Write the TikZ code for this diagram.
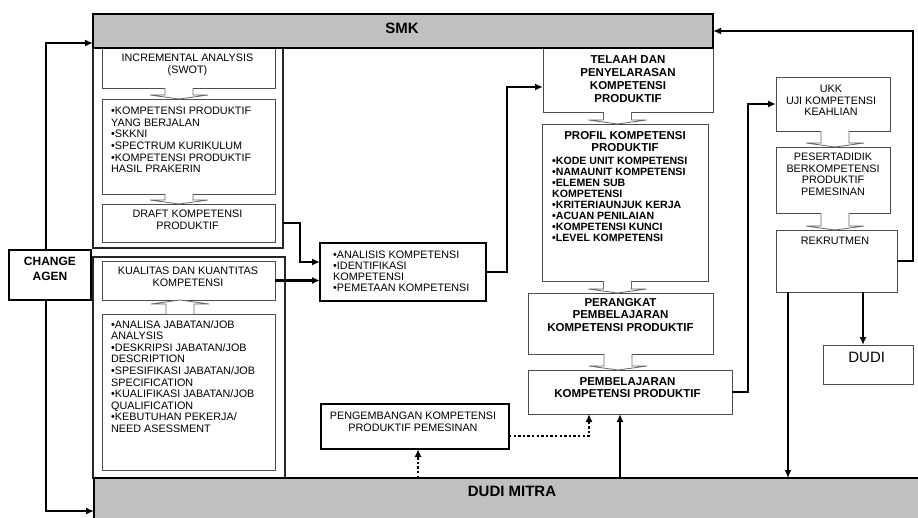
\documentclass[tikz,border=0pt]{standalone}
\usepackage{fontspec}
\setmainfont{Liberation Sans}
\usetikzlibrary{arrows.meta,calc}
\definecolor{bargray}{HTML}{C0C0C0}
\begin{document}
\begin{tikzpicture}[x=1pt,y=-1pt,
  bx/.style={draw=black!70,line width=0.8pt,fill=white,inner sep=0pt,outer sep=0pt,anchor=north west},
  tbx/.style={draw=black,line width=2pt,fill=white,inner sep=0pt,outer sep=0pt,anchor=north west},
  frm/.style={draw=black!85,line width=1.1pt,inner sep=0pt,outer sep=0pt,anchor=north west},
  bar/.style={draw=black,line width=2.4pt,fill=bargray,inner sep=0pt,outer sep=0pt,anchor=north west},
  reg/.style={font=\fontsize{10.8}{11.6}\selectfont,inner sep=0pt},
  regb/.style={font=\bfseries\fontsize{10.6}{11}\selectfont,inner sep=0pt},
  bld/.style={font=\bfseries\fontsize{11.5}{12.8}\selectfont,inner sep=0pt},
  conn/.style={draw=black,line width=2.4pt,-{Latex[length=8pt,width=7pt]}},
  dconn/.style={draw=black,line width=2.4pt,dash pattern=on 2.4pt off 2.2pt,-{Latex[length=8pt,width=7pt]}},
  blk/.style={draw=black!60,line width=0.8pt,fill=white},
  pics/bdown/.style={code={\draw[blk] (-14,0) -- (-14,#1-4) -- (-29,#1-4) -- (0,#1) -- (29,#1-4) -- (14,#1-4) -- (14,0);}},
  pics/bup/.style={code={\draw[blk] (-14,0) -- (-14,-#1+4) -- (-29,-#1+4) -- (0,-#1) -- (29,-#1+4) -- (14,-#1+4) -- (14,0);}},
]
\useasboundingbox (0,0) rectangle (918,517);
\clip (0,0) rectangle (918,517);
\fill[white] (0,0) rectangle (918,517);

% frames
\node[frm,minimum width=190pt,minimum height=200pt] (upf) at (93,48) {};
\node[frm,minimum width=192pt,minimum height=221pt] (lof) at (93,257) {};

% boxes
\node[bx,minimum width=173pt,minimum height=40pt] (incr) at (102,48) {};
\node[bx,minimum width=173pt,minimum height=95pt] (kpb) at (102,99) {};
\node[bx,minimum width=173pt,minimum height=38pt] (draft) at (102,204) {};
\node[bx,minimum width=173pt,minimum height=39pt] (kual) at (102,261) {};
\node[bx,minimum width=173pt,minimum height=156pt] (jab) at (102,314) {};
\node[tbx,line width=2.6pt,minimum width=82pt,minimum height=50pt] (ca) at (9,250) {};
\node[tbx,minimum width=166pt,minimum height=58pt] (ana) at (320,243) {};
\node[bx,minimum width=170pt,minimum height=64pt] (tel) at (543,48) {};
\node[bx,minimum width=166pt,minimum height=157pt] (prof) at (542,124) {};
\node[bx,minimum width=185pt,minimum height=61pt] (per) at (528,293) {};
\node[bx,minimum width=204pt,minimum height=44pt] (pemb) at (528,370) {};
\node[tbx,minimum width=188pt,minimum height=45pt] (peng) at (321,404) {};
\node[bx,minimum width=114pt,minimum height=54pt] (ukk) at (776,77) {};
\node[bx,minimum width=114pt,minimum height=66pt] (pes) at (776,147) {};
\node[bx,minimum width=121pt,minimum height=62pt] (rek) at (776,230) {};
\node[bx,minimum width=90pt,minimum height=39pt] (dudi) at (823,345) {};
\node[bar,minimum width=620pt,minimum height=34pt] (smk) at (93,14) {};
\node[bar,minimum width=831pt,minimum height=47pt] (dm) at (94,478) {};

% texts
\node[reg,anchor=north,align=center] (incrT) at (187.5,54) {INCREMENTAL ANALYSIS\\(SWOT)};
\node[reg,anchor=north west,align=left] (kpbT) at (111,107) {•KOMPETENSI PRODUKTIF\\YANG BERJALAN\\•SKKNI\\•SPECTRUM KURIKULUM\\•KOMPETENSI PRODUKTIF\\HASIL PRAKERIN};
\node[reg,anchor=north,align=center] (draftT) at (187.5,210) {DRAFT KOMPETENSI\\PRODUKTIF};
\node[reg,anchor=north,align=center] (kualT) at (188,267) {KUALITAS DAN KUANTITAS\\KOMPETENSI};
\node[reg,anchor=north west,align=left] (jabT) at (111,320) {•ANALISA JABATAN/JOB\\ANALYSIS\\•DESKRIPSI JABATAN/JOB\\DESCRIPTION\\•SPESIFIKASI JABATAN/JOB\\SPECIFICATION\\•KUALIFIKASI JABATAN/JOB\\QUALIFICATION\\•KEBUTUHAN PEKERJA/\\NEED ASESSMENT};
\node[font=\bfseries\fontsize{12}{15}\selectfont,inner sep=0pt,anchor=north,align=center] (caT) at (50,257) {CHANGE\\AGEN};
\node[reg,font=\fontsize{10.8}{11}\selectfont,anchor=north west,align=left] (anaT) at (333,251) {•ANALISIS KOMPETENSI\\•IDENTIFIKASI\\KOMPETENSI\\•PEMETAAN KOMPETENSI};
\node[bld,font=\bfseries\fontsize{11.5}{13}\selectfont,anchor=north,align=center] (telT) at (628,55) {TELAAH DAN\\PENYELARASAN\\KOMPETENSI\\PRODUKTIF};
\node[bld,font=\bfseries\fontsize{11.5}{12}\selectfont,anchor=north,align=center] (profH) at (625,131) {PROFIL KOMPETENSI\\PRODUKTIF};
\node[regb,anchor=north west,align=left] (profB) at (552,157) {•KODE UNIT KOMPETENSI\\•NAMAUNIT KOMPETENSI\\•ELEMEN SUB\\KOMPETENSI\\•KRITERIAUNJUK KERJA\\•ACUAN PENILAIAN\\•KOMPETENSI KUNCI\\•LEVEL KOMPETENSI};
\node[bld,font=\bfseries\fontsize{11.5}{12.5}\selectfont,anchor=north,align=center] (perT) at (620.5,298) {PERANGKAT\\PEMBELAJARAN\\KOMPETENSI PRODUKTIF};
\node[bld,font=\bfseries\fontsize{11.5}{12}\selectfont,anchor=north,align=center] (pembT) at (627.5,377) {PEMBELAJARAN\\KOMPETENSI PRODUKTIF};
\node[reg,anchor=north,align=center] (pengT) at (413,412) {PENGEMBANGAN KOMPETENSI\\PRODUKTIF PEMESINAN};
\node[reg,anchor=north,align=center] (ukkT) at (831,85) {UKK\\UJI KOMPETENSI\\KEAHLIAN};
\node[reg,anchor=north,align=center] (pesT) at (833,153) {PESERTADIDIK\\BERKOMPETENSI\\PRODUKTIF\\PEMESINAN};
\node[reg,anchor=north,align=center] (rekT) at (835,237) {REKRUTMEN};
\node[font=\fontsize{15}{16}\selectfont,inner sep=0pt,anchor=north] (dudiT) at (866.7,352) {DUDI};
\node[font=\bfseries\fontsize{15}{16}\selectfont,inner sep=0pt,anchor=north] (smkT) at (402,22.5) {SMK};
\node[font=\bfseries\fontsize{15}{16}\selectfont,inner sep=0pt,anchor=north] (dmT) at (512,486) {DUDI MITRA};

% block arrows
\pic at ([xshift=-9.5pt]incr.south) {bdown=11};
\pic at ([xshift=-9.5pt]kpb.south) {bdown=10};
\pic at ([xshift=-8.5pt]jab.north) {bup=14};
\pic at ([xshift=-10.5pt]tel.south) {bdown=12};
\pic at ([xshift=-7.5pt]prof.south) {bdown=12};
\pic at ([xshift=-2.5pt]per.south) {bdown=16};
\pic at ([xshift=2pt]ukk.south) {bdown=16};
\pic at ([xshift=2pt]pes.south) {bdown=17};

% connectors
\draw[conn] ([xshift=-4pt]ca.north) |- ([yshift=5pt]smk.south west);
\draw[conn] ([xshift=-4pt]ca.south) |- ([yshift=-9.5pt]dm.west);
\draw[conn] (draft.east -| upf.east) -- ++(17,0) |- ([yshift=10pt]ana.west);
\draw[conn] (kual.east) -- (kual.east -| ana.west);
\draw[conn] (ana.east) -- ++(21,0) |- ([yshift=-7pt]tel.west);
\draw[conn] (pemb.east) -- ++(16,0) |- (ukk.west);
\draw[conn] (rek.east) -- ++(16,0) |- (smk.east);
\coordinate (r1) at ([xshift=-48.5pt]rek.south);
\draw[conn] (r1) -- (r1 |- dm.north);
\coordinate (r2) at ([xshift=26.5pt]rek.south);
\draw[conn] (r2) -- (r2 |- dudi.north);
\coordinate (p1) at ([xshift=-10pt]pemb.south);
\draw[conn] (p1 |- dm.north) -- (p1);
\coordinate (p2) at ([xshift=-41pt]pemb.south);
\draw[dconn] ([yshift=-9.5pt]peng.east) -| (p2);
\coordinate (p3) at ([xshift=3pt]peng.south);
\draw[dconn] (p3 |- dm.north) -- (p3);
\end{tikzpicture}
\end{document}
